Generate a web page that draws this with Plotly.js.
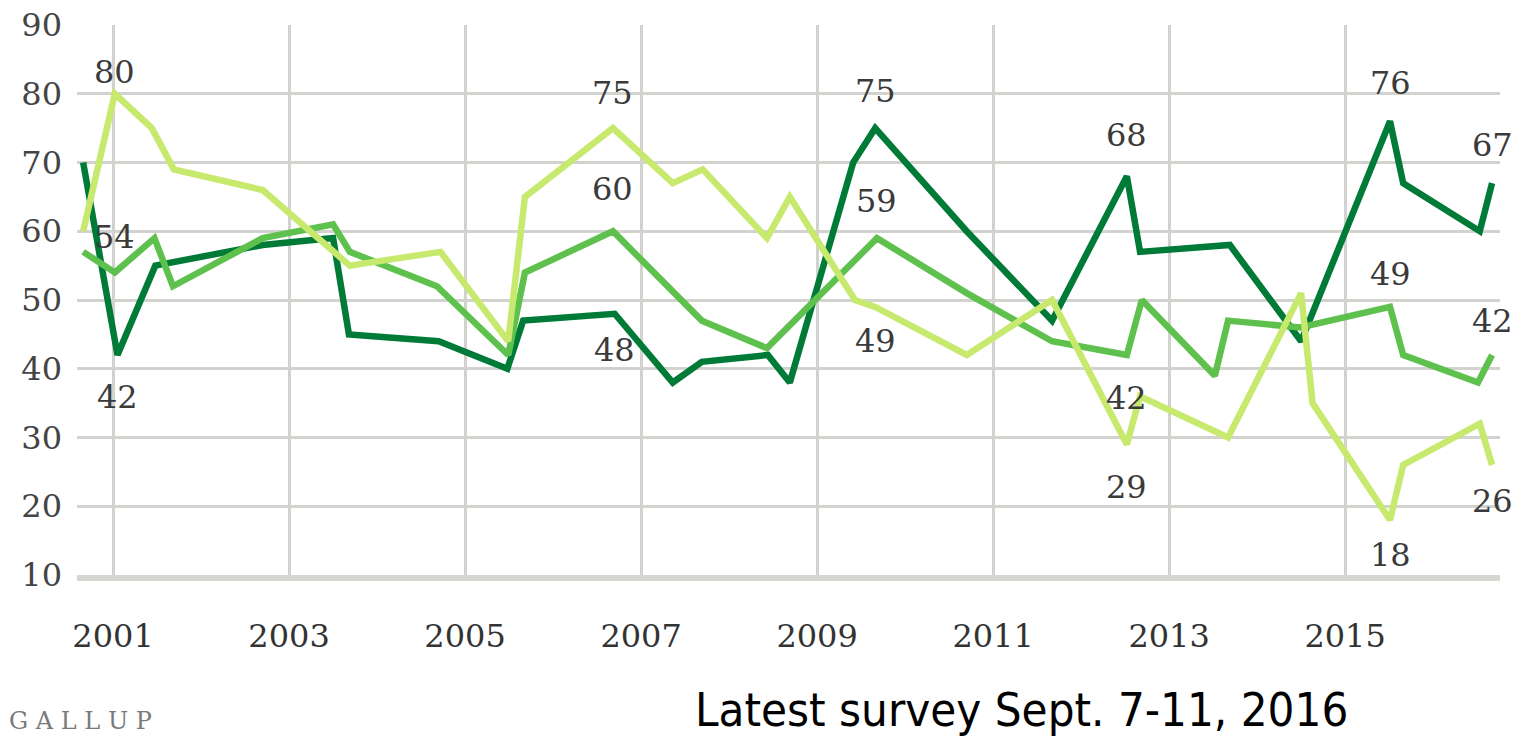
<!DOCTYPE html>
<html>
<head>
<meta charset="utf-8">
<script src="https://cdn.plot.ly/plotly-3.0.1.min.js"></script>
<style>
  html, body { margin: 0; padding: 0; background: #ffffff; }
  #grafico { width: 1522px; height: 736px; }
</style>
</head>
<body>
<div id="grafico"></div>
<script>
// --- datos ---
const darkX = [2000.66, 2001.05, 2001.48, 2002.70, 2003.50, 2003.68, 2004.70, 2005.48, 2005.66, 2006.70,
               2007.36, 2007.69, 2008.44, 2008.69, 2009.41, 2009.66, 2010.70, 2011.67, 2012.52, 2012.67,
               2013.69, 2014.50, 2015.51, 2015.66, 2016.53, 2016.67];
const darkY = [70, 42, 55, 58, 59, 45, 44, 40, 47, 48,
               38, 41, 42, 38, 70, 75, 60, 47, 68, 57,
               58, 44, 76, 67, 60, 67];

const midX = [2000.66, 2001.02, 2001.47, 2001.68, 2002.70, 2003.50, 2003.69, 2004.68, 2005.49, 2005.68,
              2006.68, 2007.69, 2008.43, 2009.68, 2010.70, 2011.67, 2012.52, 2012.69, 2013.52, 2013.67,
              2014.49, 2015.51, 2015.66, 2016.51, 2016.67];
const midY = [57, 54, 59, 52, 59, 61, 57, 52, 42, 54,
              60, 47, 43, 59, 51, 44, 42, 50, 39, 47,
              46, 49, 42, 38, 42];

const lightX = [2000.66, 2001.02, 2001.44, 2001.69, 2002.70, 2003.69, 2004.72, 2005.49, 2005.68, 2006.68,
                2007.36, 2007.70, 2008.43, 2008.69, 2009.43, 2009.66, 2010.70, 2011.67, 2012.52, 2012.67,
                2013.67, 2014.50, 2014.63, 2015.51, 2015.66, 2016.53, 2016.67];
const lightY = [60, 80, 75, 69, 66, 55, 57, 44, 65, 75,
                67, 69, 59, 65, 50, 49, 42, 50, 29, 36,
                30, 51, 35, 18, 26, 32, 26];

// indices of the labelled points in each series
const darkLabels = [1, 9, 15, 18, 22, 25];
const midLabels = [1, 10, 13, 16, 21, 24];
const lightLabels = [1, 9, 15, 18, 23, 26];

const yearTicks = [2001, 2003, 2005, 2007, 2009, 2011, 2013, 2015];
const yearText = ['2001', '2003', '2005', '2007', '2009', '2011', '2013', '2015'];

// --- estilo ---
const colDark = '#007a37';
const colMid = '#5fc14d';
const colLight = '#c6e96e';
const gridCol = '#d2d2ce';
const fontSerif = 'DejaVu Serif, Liberation Serif, serif';

// above (+) or below (-) each label, in pixels
const darkSide = [-42, -36, 37, 41, 38, 38];
const midSide = [36, 42, 37, -43, 33, 34];
const lightSide = [22, 35, -34, -43, -35, -36];

function traza(x, y, color) {
    return {
        x: x, y: y, type: 'scatter', mode: 'lines',
        line: { color: color, width: 6.5 },
        hoverinfo: 'skip'
    };
}

function etiquetas(x, y, idx, lados) {
    return idx.map((i, k) => ({
        x: x[i], y: y[i], xref: 'x', yref: 'y',
        text: String(y[i]), showarrow: false,
        yshift: lados[k],
        font: { family: fontSerif, size: 32, color: '#3a3a3a' }
    }));
}

let anotaciones = []
    .concat(etiquetas(darkX, darkY, darkLabels, darkSide))
    .concat(etiquetas(midX, midY, midLabels, midSide))
    .concat(etiquetas(lightX, lightY, lightLabels, lightSide));

anotaciones.push({
    xref: 'paper', yref: 'paper', x: 0.4329, y: -0.245,
    xanchor: 'left', yanchor: 'middle', showarrow: false,
    text: 'Latest survey Sept. 7-11, 2016',
    font: { family: 'Liberation Sans Narrow, DejaVu Sans Condensed, Liberation Sans, sans-serif', size: 47, color: '#000000' }
});
// logo de Gallup abajo a la izquierda
anotaciones.push({
    xref: 'paper', yref: 'paper', x: -0.049, y: -0.2945,
    xanchor: 'left', yanchor: 'bottom', showarrow: false,
    text: 'G A L L U P',
    font: { family: fontSerif, size: 24, color: '#7a7a7a' }
});

const layout = {
    width: 1522, height: 736,
    margin: { l: 77, r: 22, t: 25, b: 161 },
    paper_bgcolor: '#ffffff', plot_bgcolor: '#ffffff',
    showlegend: false,
    xaxis: {
        range: [2000.59, 2016.76],
        tickvals: yearTicks, ticktext: yearText,
        showgrid: true, gridcolor: gridCol, gridwidth: 3,
        zeroline: false,
        showline: true, linecolor: '#d6d6d2', linewidth: 6,
        ticks: '', ticklabelstandoff: 28,
        tickfont: { family: fontSerif, size: 32, color: '#333333' },
        fixedrange: true
    },
    yaxis: {
        range: [10, 90], dtick: 10, tick0: 10,
        showgrid: true, gridcolor: gridCol, gridwidth: 3,
        zeroline: false, showline: false,
        ticks: '', ticklabelstandoff: 14,
        tickfont: { family: fontSerif, size: 32, color: '#444444' },
        fixedrange: true
    },
    annotations: anotaciones
};

Plotly.newPlot('grafico', [
    traza(darkX, darkY, colDark),
    traza(midX, midY, colMid),
    traza(lightX, lightY, colLight)
], layout, { displayModeBar: false, staticPlot: true });
</script>
</body>
</html>
